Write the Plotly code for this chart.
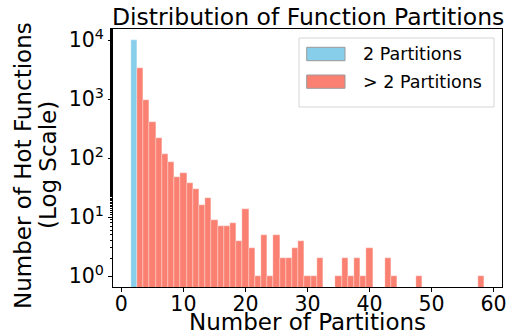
import plotly.graph_objects as go

partitions_two = [2]
counts_two = [9900]

partitions_more = list(range(3, 59))
counts_more = [3330, 960, 407, 218, 117, 86, 48, 57, 38, 30,
               16, 21, 9, 7, 7, 8, 4, 14, 3, 1,
               5, 1, 5, 2, 2, 3, 4, 1, 1, 2,
               0, 0, 1, 2, 1, 2, 1, 3, 0, 0,
               2, 1, 0, 0, 0, 1, 0, 0, 0, 0,
               0, 0, 0, 0, 0, 1]

series_names = ["2 Partitions", "> 2 Partitions"]
series_colors = ["#87CEEB", "#FA8072"]

ytick_vals = [1, 10, 100, 1000, 10000]
ytick_text = ["10<sup>0</sup>", "10<sup>1</sup>", "10<sup>2</sup>", "10<sup>3</sup>", "10<sup>4</sup>"]
xtick_vals = [0, 10, 20, 30, 40, 50, 60]

xm = [p for p, c in zip(partitions_more, counts_more) if c > 0]
ym = [c for c in counts_more if c > 0]

W, H = 509, 335
L, R, T, B = 113, 7, 29, 48
PW, PH = W - L - R, H - T - B


def px(x):
    return (x - L) / PW


def py(y):
    return (H - B - y) / PH


fig = go.Figure()
fig.add_trace(go.Bar(x=partitions_two, y=counts_two, name=series_names[0],
                     marker=dict(color=series_colors[0], line=dict(color="white", width=0.3)),
                     width=1, showlegend=False))
fig.add_trace(go.Bar(x=xm, y=ym, name=series_names[1],
                     marker=dict(color=series_colors[1], line=dict(color="white", width=0.3)),
                     width=1, showlegend=False))

font = "DejaVu Sans"
annotations = [
    dict(text="Distribution of Function Partitions", x=0.5, y=py(17), xref="paper", yref="paper",
         xanchor="center", yanchor="middle", showarrow=False, font=dict(size=23.5)),
    dict(text="Number of Partitions", x=0.5, y=py(322), xref="paper", yref="paper",
         xanchor="center", yanchor="middle", showarrow=False, font=dict(size=23)),
    dict(text="Number of Hot Functions", x=px(23), y=py(166), xref="paper", yref="paper",
         xanchor="center", yanchor="middle", showarrow=False, textangle=-90, font=dict(size=23)),
    dict(text="(Log Scale)", x=px(48), y=py(165), xref="paper", yref="paper",
         xanchor="center", yanchor="middle", showarrow=False, textangle=-90, font=dict(size=23)),
]
shapes = [
    dict(type="rect", xref="paper", yref="paper", x0=px(299), x1=px(494), y0=py(107), y1=py(38),
         line=dict(color="#d6d6d6", width=1), fillcolor="rgba(255,255,255,0.8)", layer="above"),
]
leg_rows = [(47.3, 60.7, 54), (75, 88.3, 81.7)]
for (y0, y1, yc), name, col in zip(leg_rows, series_names, series_colors):
    shapes.append(dict(type="rect", xref="paper", yref="paper", x0=px(306.7), x1=px(345),
                       y0=py(y1), y1=py(y0), line=dict(color="#9a9a9a", width=1),
                       fillcolor=col, layer="above"))
    annotations.append(dict(text=name, x=px(361), y=py(yc), xref="paper", yref="paper",
                            xanchor="left", yanchor="middle", showarrow=False,
                            font=dict(size=17.5)))

fig.update_layout(
    width=W, height=H,
    margin=dict(l=L, r=R, t=T, b=B, autoexpand=False),
    paper_bgcolor="white", plot_bgcolor="white",
    font=dict(family=font, size=20, color="black"),
    barmode="overlay", bargap=0,
    showlegend=False,
    annotations=annotations,
    shapes=shapes,
)
fig.update_xaxes(range=[-1.35, 61.35], tickvals=xtick_vals, ticks="outside", ticklen=4,
                 tickcolor="black", showline=True, linecolor="black", linewidth=1, mirror=True,
                 showgrid=False, zeroline=False, automargin=False, ticklabelstandoff=-6,
                 tickfont=dict(size=20.5))
fig.update_yaxes(type="log", range=[-0.185, 4.19], tickvals=ytick_vals, ticktext=ytick_text,
                 ticks="outside", ticklen=4, tickcolor="black",
                 showline=True, linecolor="black", linewidth=1, mirror=True,
                 showgrid=False, zeroline=False, automargin=False,
                 minor=dict(ticks="outside", ticklen=2, tickcolor="black", showgrid=False),
                 tickfont=dict(size=20.5))

fig.write_html("out.html", config={"displayModeBar": False},
               post_script="document.body.style.margin='0';document.body.style.overflow='hidden';")
